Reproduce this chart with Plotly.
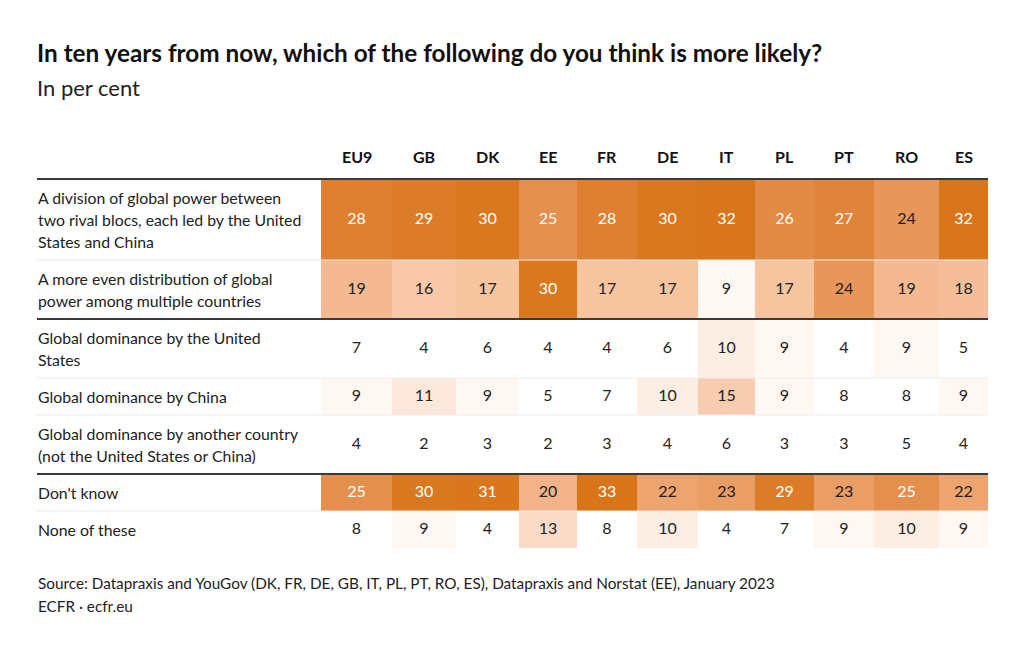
import plotly.graph_objects as go

# ---------------- data ----------------
countries = ["EU9", "GB", "DK", "EE", "FR", "DE", "IT", "PL", "PT", "RO", "ES"]
row_labels = [
    ["A division of global power between", "two rival blocs, each led by the United", "States and China"],
    ["A more even distribution of global", "power among multiple countries"],
    ["Global dominance by the United", "States"],
    ["Global dominance by China"],
    ["Global dominance by another country", "(not the United States or China)"],
    ["Don't know"],
    ["None of these"],
]
two_blocs = [28, 29, 30, 25, 28, 30, 32, 26, 27, 24, 32]
multipolar = [19, 16, 17, 30, 17, 17, 9, 17, 24, 19, 18]
us_dominance = [7, 4, 6, 4, 4, 6, 10, 9, 4, 9, 5]
china_dominance = [9, 11, 9, 5, 7, 10, 15, 9, 8, 8, 9]
other_dominance = [4, 2, 3, 2, 3, 4, 6, 3, 3, 5, 4]
dont_know = [25, 30, 31, 20, 33, 22, 23, 29, 23, 25, 22]
none_of_these = [8, 9, 4, 13, 8, 10, 4, 7, 9, 10, 9]
values = [two_blocs, multipolar, us_dominance, china_dominance,
          other_dominance, dont_know, none_of_these]

title = "In ten years from now, which of the following do you think is more likely?"
subtitle = "In per cent"
source = "Source: Datapraxis and YouGov (DK, FR, DE, GB, IT, PL, PT, RO, ES), Datapraxis and Norstat (EE), January 2023"
credit = "ECFR · ecfr.eu"

# ---------------- layout constants (pixels) ----------------
W, H = 1024, 654
LEFT = 37
TBL_L = 321
COL_WIDTHS = [71, 64, 63, 58, 60, 61, 57, 59, 60, 65, 49]   # table auto-layout widths
TBL_TOP = 179
HEADER_Y = 156
LINE_H = 22
ROW_PAD = 15
FONT = "Lato"
DARK = "#222222"

ncol = len(countries)
x_edges = [TBL_L]
for w in COL_WIDTHS:
    x_edges.append(x_edges[-1] + w)
TBL_R = x_edges[-1]
x_cent = [(x_edges[i] + x_edges[i + 1]) / 2 for i in range(ncol)]

y_edges = [TBL_TOP]
for lab in row_labels:
    y_edges.append(y_edges[-1] + ROW_PAD + LINE_H * len(lab))
y_cent = [(y_edges[i] + y_edges[i + 1]) / 2 for i in range(len(row_labels))]

# colour scale fitted to the reference
zmin, zmax = 2, 33
stops = [(2, "#FFFFFF"), (8, "#FFFFFF"), (9, "#FFF7F1"), (10, "#FDEEE3"),
         (13, "#FADBC8"), (15, "#F8CCB0"), (17, "#F7C4A0"), (20, "#F2B38A"),
         (22, "#EDA46F"), (25, "#E58F4E"), (28, "#DE7F32"), (30, "#DA781F"),
         (33, "#D97519")]
colorscale = [[(v - zmin) / (zmax - zmin), c] for v, c in stops]

fig = go.Figure()
fig.add_trace(go.Heatmap(
    z=values, x=x_edges, y=y_edges, zmin=zmin, zmax=zmax,
    colorscale=colorscale, showscale=False, hoverinfo="skip",
))

# cell numbers
for light in (True, False):
    xs, ys, ts = [], [], []
    for r, row in enumerate(values):
        for c, v in enumerate(row):
            if (v >= 25) == light:
                xs.append(x_cent[c]); ys.append(y_cent[r]); ts.append(str(v))
    fig.add_trace(go.Scatter(
        x=xs, y=ys, text=ts, mode="text", hoverinfo="skip", showlegend=False,
        textfont=dict(family=FONT, size=16, color="#FFFFFF" if light else DARK),
    ))

annotations = []
# headers
for c, name in enumerate(countries):
    annotations.append(dict(x=x_cent[c], y=HEADER_Y, text=f"<b>{name}</b>", showarrow=False,
                            xanchor="center", yanchor="middle",
                            font=dict(family=FONT, size=16, color="#111111")))
# row labels (line by line)
for r, lab in enumerate(row_labels):
    n = len(lab)
    for k, line in enumerate(lab):
        yy = y_cent[r] + (k - (n - 1) / 2) * LINE_H
        annotations.append(dict(x=LEFT - 1, y=yy, text=line, showarrow=False,
                                xanchor="left", yanchor="middle",
                                font=dict(family=FONT, size=15.8, color=DARK)))
# title etc.
annotations += [
    dict(x=LEFT - 2, y=52, text=f"<b>{title}</b>", showarrow=False, xanchor="left", yanchor="middle",
         font=dict(family=FONT, size=24.3, color="#111111")),
    dict(x=LEFT - 2, y=87, text=subtitle, showarrow=False, xanchor="left", yanchor="middle",
         font=dict(family=FONT, size=22, color=DARK)),
    dict(x=LEFT - 1, y=583, text=source, showarrow=False, xanchor="left", yanchor="middle",
         font=dict(family=FONT, size=15.3, color=DARK)),
    dict(x=LEFT - 1, y=606, text=credit, showarrow=False, xanchor="left", yanchor="middle",
         font=dict(family=FONT, size=15.3, color=DARK)),
]

shapes = []
thick_after = {0, 2, 5}  # indexes into y_edges
for i, ye in enumerate(y_edges[:-1]):
    if i in thick_after:
        shapes.append(dict(type="line", x0=LEFT, x1=TBL_R, y0=ye, y1=ye,
                           line=dict(color="#3a3a3a", width=2), layer="above"))
    else:
        shapes.append(dict(type="line", x0=LEFT, x1=TBL_R, y0=ye, y1=ye,
                           line=dict(color="#ececec", width=1), layer="above"))

fig.update_layout(
    width=W, height=H, autosize=False,
    margin=dict(l=0, r=0, t=0, b=0),
    paper_bgcolor="white", plot_bgcolor="white",
    xaxis=dict(range=[0, W], visible=False, fixedrange=True, domain=[0, 1]),
    yaxis=dict(range=[H, 0], visible=False, fixedrange=True, domain=[0, 1]),
    annotations=annotations, shapes=shapes, showlegend=False,
)

fig.write_html("out.html", config={"displayModeBar": False})

# remove the default body margin so the figure fills the window exactly
with open("out.html", "r", encoding="utf-8") as f:
    html = f.read()
html = html.replace("<head>", "<head><style>html,body{margin:0;padding:0;overflow:hidden;}</style>", 1)
with open("out.html", "w", encoding="utf-8") as f:
    f.write(html)
